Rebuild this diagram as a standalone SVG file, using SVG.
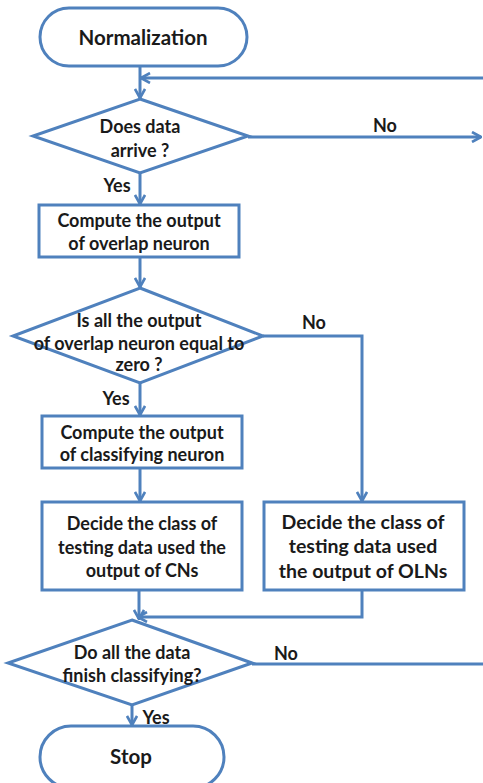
<svg xmlns="http://www.w3.org/2000/svg" width="483" height="783" viewBox="0 0 483 783">
  <style>
    .shape { fill: #ffffff; stroke: #4f81bd; stroke-width: 3; }
    .edge { fill: none; stroke: #4f81bd; stroke-width: 3; }
    text { font-family: Lato, "Liberation Sans", sans-serif; font-weight: bold; fill: #1a1a1a; text-anchor: middle; dominant-baseline: central; }
    .t16 { font-size: 18px; }
    .t18 { font-size: 19.5px; }
    .title { font-size: 20.5px; }
    .lbl { font-size: 18px; }
  </style>
  <defs>
    <marker id="arrow" viewBox="0 0 12 12" refX="11" refY="6" markerWidth="12" markerHeight="12" markerUnits="userSpaceOnUse" orient="auto">
      <path d="M2,1 L11,6 L2,11" fill="none" stroke="#4f81bd" stroke-width="2.6" stroke-linejoin="round"/>
    </marker>
  </defs>
  <rect width="483" height="783" fill="#ffffff"/>

  <g id="connectors">
    <path class="edge" d="M140,66 V98" marker-end="url(#arrow)"/>
    <path class="edge" d="M483,78 H141" marker-end="url(#arrow)"/>
    <path class="edge" d="M248,137 H481" marker-end="url(#arrow)"/>
    <path class="edge" d="M140,173 V204" marker-end="url(#arrow)"/>
    <path class="edge" d="M140,257 V287" marker-end="url(#arrow)"/>
    <path class="edge" d="M263,336 H362 V501" marker-end="url(#arrow)"/>
    <path class="edge" d="M140,383 V415" marker-end="url(#arrow)"/>
    <path class="edge" d="M140,468 V501" marker-end="url(#arrow)"/>
    <path class="edge" d="M139,590 V619" marker-end="url(#arrow)"/>
    <path class="edge" d="M362,590 V617 H138" marker-end="url(#arrow)"/>
    <path class="edge" d="M252,664 H483"/>
    <path class="edge" d="M132,705 V725" marker-end="url(#arrow)"/>
    <text class="lbl" x="385" y="125">No</text>
    <text class="lbl" x="117" y="185">Yes</text>
    <text class="lbl" x="314" y="322">No</text>
    <text class="lbl" x="116" y="398">Yes</text>
    <text class="lbl" x="286" y="653">No</text>
    <text class="lbl" x="156" y="717">Yes</text>
  </g>

  <g id="normalization">
    <rect class="shape" x="40" y="8" width="207" height="58" rx="29"/>
    <text class="title" x="143" y="37">Normalization</text>
  </g>

  <g id="data-arrive">
    <polygon class="shape" points="140,99 248,136 140,173 33,136"/>
    <text class="t16" x="140" y="126">Does data</text>
    <text class="t16" x="140" y="150">arrive ?</text>
  </g>

  <g id="overlap-output">
    <rect class="shape" x="39" y="205" width="200" height="52"/>
    <text class="t16" x="139" y="220">Compute the output</text>
    <text class="t16" x="139" y="243">of overlap neuron</text>
  </g>

  <g id="overlap-zero">
    <polygon class="shape" points="140,288 263,336 140,383 13,336"/>
    <text class="t16" x="139" y="320">Is all the output</text>
    <text class="t16" x="139" y="343">of overlap neuron equal to</text>
    <text class="t16" x="139" y="364">zero ?</text>
  </g>

  <g id="classifying-output">
    <rect class="shape" x="42" y="416" width="200" height="52"/>
    <text class="t16" x="142" y="432">Compute the output</text>
    <text class="t16" x="142" y="454">of classifying  neuron</text>
  </g>

  <g id="decide-cns">
    <rect class="shape" x="42" y="502" width="200" height="88"/>
    <text class="t16" x="142" y="523">Decide the class of</text>
    <text class="t16" x="142" y="547">testing data used the</text>
    <text class="t16" x="142" y="570">output of CNs</text>
  </g>

  <g id="decide-olns">
    <rect class="shape" x="264" y="502" width="200" height="88"/>
    <text class="t18" x="363" y="521">Decide the class of</text>
    <text class="t18" x="363" y="545">testing data used</text>
    <text class="t18" x="363" y="570">the output of OLNs</text>
  </g>

  <g id="finish-classifying">
    <polygon class="shape" points="132,620 252,663 132,705 8,663"/>
    <text class="t16" x="132" y="652">Do all the data</text>
    <text class="t16" x="132" y="675">finish classifying?</text>
  </g>

  <g id="stop">
    <rect class="shape" x="40" y="726" width="184" height="62" rx="31"/>
    <text class="title" x="131" y="756">Stop</text>
  </g>
</svg>
